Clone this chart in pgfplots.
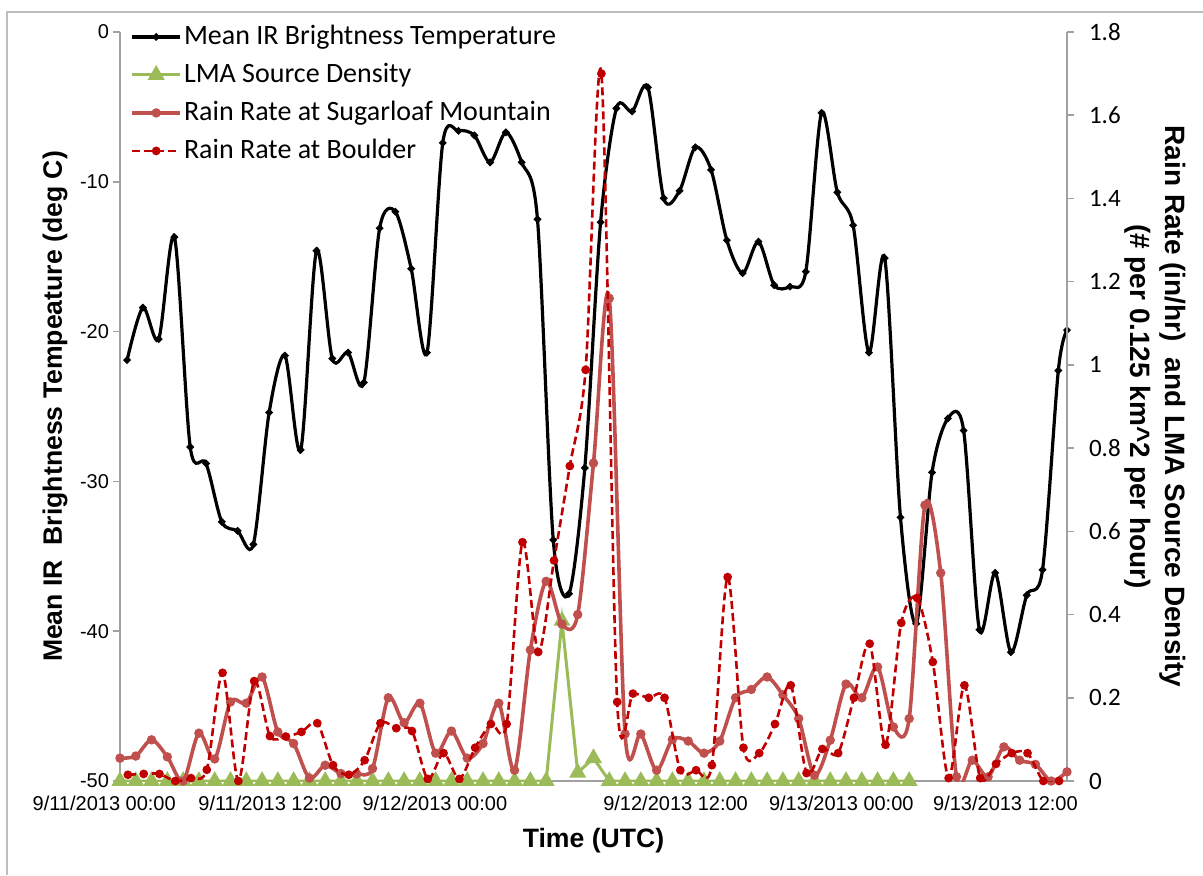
\documentclass[border=0pt]{standalone}
\usepackage{pgfplots}
\pgfplotsset{compat=1.18}
\usepackage{pgfplotstable}
\usepackage{fontspec}
\setmainfont{Liberation Sans}
\newfontfamily\calibri{Carlito}

\definecolor{lmagreen}{RGB}{155,187,89}
\definecolor{sugarred}{RGB}{192,80,77}
\definecolor{boulderred}{RGB}{192,0,0}
\definecolor{axisgray}{RGB}{160,160,160}
\definecolor{framegray}{RGB}{190,190,190}

\newcommand\tickfont{\fontsize{10}{11.5}\selectfont}
\newcommand\titlefont{\fontsize{13.3}{17.5}\selectfont\bfseries}

% Mean IR brightness temperature (deg C), hourly, half-hour offset
\pgfplotstableread{
x t
0.45 -21.9
1.45 -18.4
2.45 -20.5
3.45 -13.7
4.45 -27.7
5.45 -28.8
6.45 -32.7
7.45 -33.3
8.45 -34.2
9.45 -25.4
10.45 -21.6
11.45 -27.9
12.45 -14.6
13.45 -21.8
14.45 -21.4
15.45 -23.4
16.45 -13.1
17.45 -12.0
18.45 -15.8
19.45 -21.4
20.45 -7.4
21.45 -6.6
22.45 -6.9
23.45 -8.7
24.45 -6.7
25.45 -8.7
26.45 -12.5
27.45 -33.9
28.45 -37.5
29.45 -29.1
30.45 -12.7
31.45 -5.1
32.45 -5.3
33.45 -3.7
34.45 -11.1
35.45 -10.6
36.45 -7.7
37.45 -9.2
38.45 -13.9
39.45 -16.1
40.45 -14.0
41.45 -16.9
42.45 -17.0
43.45 -16.0
44.45 -5.4
45.45 -10.7
46.45 -12.9
47.45 -21.4
48.45 -15.1
49.45 -32.4
50.45 -39.5
51.45 -29.4
52.45 -25.8
53.45 -26.6
54.45 -39.9
55.45 -36.1
56.45 -41.4
57.45 -37.6
58.45 -35.9
59.45 -22.6
60.00 -19.9
}\irtable

% LMA source density (# per 0.125 km^2 per hour)
\pgfplotstableread{
x r
0 0
1 0
2 0
3 0
4 0
5 0
6 0
7 0
8 0
9 0
10 0
11 0
12 0
13 0
14 0
15 0
16 0
17 0
18 0
19 0
20 0
21 0
22 0
23 0
24 0
25 0
26 0
27 0
28 0.385
29 0.02
30 0.055
31 0
32 0
33 0
34 0
35 0
36 0
37 0
38 0
39 0
40 0
41 0
42 0
43 0
44 0
45 0
46 0
47 0
48 0
49 0
50 0
}\lmatable

% Rain rate at Sugarloaf Mountain (in/hr)
\pgfplotstableread{
x r
0 0.055
1 0.06
2 0.099
3 0.058
4 0.0
5 0.115
6 0.053
7 0.19
8 0.187
9 0.25
10 0.118
11 0.09
12 0.007
13 0.038
14 0.018
15 0.017
16 0.03
17 0.20
18 0.14
19 0.187
20 0.067
21 0.12
22 0.055
23 0.09
24 0.187
25 0.026
26 0.315
27 0.48
28 0.377
29 0.40
30 0.764
31 1.16
32 0.113
33 0.113
34 0.026
35 0.10
36 0.096
37 0.067
38 0.096
39 0.20
40 0.22
41 0.25
42 0.207
43 0.15
44 0.014
45 0.098
46 0.233
47 0.20
48 0.274
49 0.13
50 0.15
51 0.663
52 0.50
53 0.01
54 0.05
55 0.01
56 0.082
57 0.05
58 0.04
59 0.0
60 0.022
}\sugartable

% Rain rate at Boulder (in/hr)
\pgfplotstableread{
x r
0.5 0.015
1.5 0.017
2.5 0.017
3.5 0.0
4.5 0.007
5.5 0.027
6.5 0.26
7.5 0.0
8.5 0.24
9.5 0.108
10.5 0.107
11.5 0.118
12.5 0.139
13.5 0.038
14.5 0.015
15.5 0.05
16.5 0.139
17.5 0.127
18.5 0.12
19.5 0.005
20.5 0.067
21.5 0.005
22.5 0.08
23.5 0.137
24.5 0.137
25.5 0.574
26.5 0.31
27.5 0.53
28.5 0.757
29.5 0.988
30.5 1.70
31.5 0.19
32.5 0.21
33.5 0.20
34.5 0.20
35.5 0.026
36.5 0.026
37.5 0.038
38.5 0.49
39.5 0.08
40.5 0.067
41.5 0.137
42.5 0.23
43.5 0.019
44.5 0.077
45.5 0.067
46.5 0.20
47.5 0.33
48.5 0.087
49.5 0.38
50.5 0.44
51.5 0.286
52.5 0.007
53.5 0.23
54.5 0.007
55.5 0.041
56.5 0.067
57.5 0.067
58.5 0.0
59.5 0.0
}\bouldertable

\pgfplotsset{
  commonaxis/.style={
    at={(0,0)}, anchor=south west,
    scale only axis, width=473.5pt, height=374.5pt,
    xmin=0, xmax=60, xtick=\empty,
    axis line style={axisgray, line width=0.8pt},
    tick style={axisgray, line width=0.8pt},
    tick align=outside, major tick length=3.5pt,
    /pgf/number format/assume math mode=true,
    clip mode=individual,
  },
}

\begin{document}
\begin{tikzpicture}
\useasboundingbox (-60pt,-47pt) rectangle (541.5pt,390.5pt);
\draw[framegray, line width=0.8pt] (-56.5pt,-47pt) -- (-56.5pt,384.5pt) -- (541.5pt,384.5pt);

% left axis: brightness temperature
\begin{axis}[
  commonaxis,
  ymin=-50, ymax=0,
  ytick={-50,-40,-30,-20,-10,0},
  axis y line*=left, axis x line*=bottom,
  yticklabel style={font=\tickfont, xshift=1.5pt},
  every axis y label/.style={at={(axis description cs:0,0.5)}, xshift=-32.5pt,
    anchor=center, rotate=90, font=\titlefont},
  ylabel={Mean IR\ \ Brightness Tempeature (deg C)},
  every axis x label/.style={at={(axis description cs:0.5,0)}, yshift=-30pt,
    anchor=center, font=\titlefont},
  xlabel={Time (UTC)},
]
\addplot[black, line width=1.6pt, smooth, mark=*, mark size=0.9pt] table[x=x, y=t] {\irtable};
\begin{scope}[every node/.style={anchor=north, inner sep=0pt, yshift=-7.5pt, font=\tickfont}]
\node at (axis cs:-1.0,-50) {9/11/2013 00:00};
\node at (axis cs:9.5,-50) {9/11/2013 12:00};
\node at (axis cs:19.95,-50) {9/12/2013 00:00};
\node at (axis cs:35.2,-50) {9/12/2013 12:00};
\node at (axis cs:45.7,-50) {9/13/2013 00:00};
\node at (axis cs:56.1,-50) {9/13/2013 12:00};
\end{scope}
\end{axis}

% right axis: rain rate and LMA source density
\begin{axis}[
  commonaxis,
  ymin=0, ymax=1.8,
  ytick={0,0.2,0.4,0.6,0.8,1,1.2,1.4,1.6,1.8},
  axis y line*=right, axis x line=none,
  yticklabel style={font=\calibri\fontsize{12.5}{14}\selectfont, xshift=4pt},
  every axis y label/.style={at={(axis description cs:1,0.5)}, xshift=44pt,
    anchor=center, rotate=-90, align=center,
    font=\fontsize{14}{17.5}\selectfont\bfseries},
  ylabel={Rain Rate (in/hr)\ \ and LMA Source Density\\(\# per 0.125 km\textasciicircum 2 per hour)},
  legend style={at={(axis description cs:0,1)}, anchor=north west,
    xshift=5pt, yshift=5.5pt, draw=none, fill=none, inner sep=0pt,
    row sep=3.5pt,
    font=\calibri\fontsize{14}{16}\selectfont,
    nodes={inner sep=1pt, text height=10.5pt, text depth=3pt}},
  legend cell align=left,
  legend image code/.code={\draw[mark repeat=2, mark phase=2, #1]
    plot coordinates {(0pt,0pt) (12pt,0pt) (24pt,0pt)};},
]
\addlegendimage{black, line width=1.6pt, mark=*, mark size=0.9pt}
\addlegendentry{Mean IR Brightness Temperature}
\addplot[lmagreen, line width=1.5pt, mark=triangle*, mark size=3.4pt,
  mark options={fill=lmagreen}] table[x=x, y=r] {\lmatable};
\addlegendentry{LMA Source Density}
\addplot[sugarred, line width=1.8pt, smooth, mark=*, mark size=1.4pt] table[x=x, y=r] {\sugartable};
\addlegendentry{Rain Rate at Sugarloaf Mountain}
\addplot[boulderred, line width=1.3pt, dash pattern=on 4pt off 2pt, smooth,
  mark=*, mark size=1.5pt, mark options={solid}] table[x=x, y=r] {\bouldertable};
\addlegendentry{Rain Rate at Boulder}
\end{axis}
\end{tikzpicture}
\end{document}
